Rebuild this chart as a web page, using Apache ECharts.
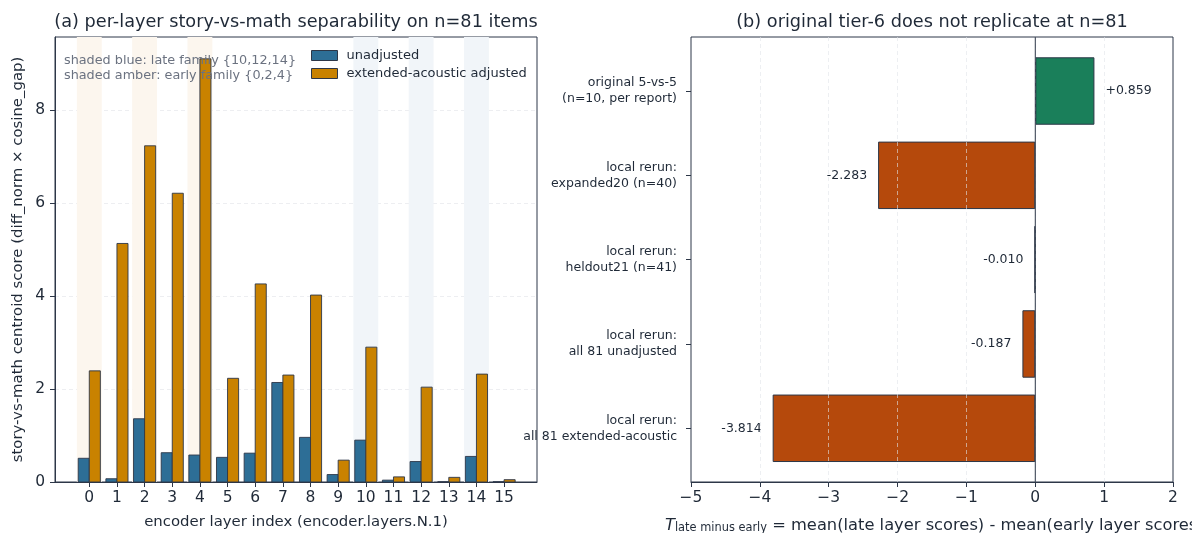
<!DOCTYPE html>
<html><head><meta charset="utf-8">
<script src="https://cdn.jsdelivr.net/npm/echarts@6/dist/echarts.min.js"></script>
<style>html,body{margin:0;padding:0;background:#fff}#c{width:1192px;height:533px}</style>
</head><body><div id="c"></div>
<script>
// ---- data (left panel) ----
const layers = [0,1,2,3,4,5,6,7,8,9,10,11,12,13,14,15];
const unadjusted = [0.51,0.07,1.36,0.63,0.58,0.53,0.62,2.14,0.96,0.16,0.90,0.04,0.44,0.005,0.55,0.005];
const adjusted   = [2.39,5.13,7.23,6.21,9.10,2.23,4.26,2.30,4.02,0.47,2.90,0.11,2.04,0.10,2.32,0.05];
const earlyFamily = [0,2,4];
const lateFamily = [10,12,14];
const leftYTicks = [0,2,4,6,8];
// ---- data (right panel) ----
const tCategories = [
  'original 5-vs-5\n(n=10, per report)',
  'local rerun:\nexpanded20 (n=40)',
  'local rerun:\nheldout21 (n=41)',
  'local rerun:\nall 81 unadjusted',
  'local rerun:\nall 81 extended-acoustic'
];
const tValues = [0.859,-2.283,-0.010,-0.187,-3.814];
const tLabels = ['+0.859','-2.283','-0.010','-0.187','-3.814'];

const FONT = 'DejaVu Sans';
const TXT = '#1f2937';
const FRAME = '#2d3748';
const BLUE = '#2d6e96';
const AMBER = '#c98200';
const GREEN = '#1a7f5a';
const RUST = '#b5490c';

const chart = echarts.init(document.getElementById('c'), null, {renderer:'canvas'});

function barRender(offset, color) {
  return function(params, api) {
    const i = api.value(0), v = api.value(1);
    const p0 = api.coord([i + offset, v]);
    const p1 = api.coord([i + offset + 0.4, 0]);
    return {type:'rect', shape:{x:p0[0], y:p0[1], width:p1[0]-p0[0], height:p1[1]-p0[1]},
      style:{fill:color, stroke:FRAME, lineWidth:0.9}};
  };
}
function shadeRender(color) {
  return function(params, api) {
    const i = api.value(0);
    const p0 = api.coord([i - 0.45, 9.57]);
    const p1 = api.coord([i + 0.45, 0]);
    return {type:'rect', shape:{x:p0[0], y:p0[1], width:p1[0]-p0[0], height:p1[1]-p0[1]},
      style:{fill:color}};
  };
}
const minus = v => (v < 0 ? '\u2212' + Math.abs(v) : String(v));

const option = {
  animation: false,
  textStyle: {fontFamily: FONT},
  grid: [
    {left:55, right:655, top:37, bottom:51, show:true, borderColor:FRAME, borderWidth:1, backgroundColor:'transparent'},
    {left:691, right:19, top:37, bottom:51, show:true, borderColor:FRAME, borderWidth:1, backgroundColor:'transparent'},
    {left:691, right:19, top:48.85, bottom:62.55}
  ],
  xAxis: [
    {gridIndex:0, type:'value', min:-1.24, max:16.19,
     axisLine:{show:true, onZero:false, lineStyle:{color:FRAME}},
     axisTick:{show:true, length:5, customValues:layers, lineStyle:{color:FRAME}},
     axisLabel:{show:true, customValues:layers, color:TXT, fontSize:15.5, margin:8, fontFamily:FONT},
     splitLine:{show:false}},
    {gridIndex:1, type:'value', min:-5, max:2, interval:1, z:5,
     axisLine:{show:true, onZero:false, lineStyle:{color:FRAME}},
     axisTick:{show:true, length:5, lineStyle:{color:FRAME}},
     axisLabel:{color:TXT, fontSize:15.5, margin:8, fontFamily:FONT, formatter: minus},
     splitLine:{show:true, showMinLine:false, showMaxLine:false,
       lineStyle:{color:'rgba(225,228,234,0.75)', type:[4,3], width:0.8}}},
    {gridIndex:2, type:'value', min:-5, max:2, show:false}
  ],
  yAxis: [
    {gridIndex:0, type:'value', min:0, max:9.57,
     axisLine:{show:true, onZero:false, lineStyle:{color:FRAME}},
     axisTick:{show:true, length:5, customValues:leftYTicks, lineStyle:{color:FRAME}},
     axisLabel:{color:TXT, fontSize:15.5, margin:10, fontFamily:FONT, customValues:leftYTicks},
     splitLine:{show:true, lineStyle:{color:'#e8eaee', type:[4,3], width:0.8}}},
    {gridIndex:1, type:'value', min:0, max:1, show:false},
    {gridIndex:2, type:'category', inverse:true, data:tCategories,
     axisLine:{show:false, onZero:false},
     axisTick:{show:true, alignWithLabel:true, length:5, lineStyle:{color:FRAME}},
     axisLabel:{color:TXT, fontSize:12.5, lineHeight:16, margin:14, align:'right', fontFamily:FONT}}
  ],
  legend: {
    orient:'vertical', left:306, top:44, itemWidth:26, itemHeight:10, itemGap:5, icon:'rect',
    textStyle:{color:TXT, fontSize:13, fontFamily:FONT, padding:[0,0,0,4]},
    data:[
      {name:'unadjusted', itemStyle:{color:BLUE, borderColor:FRAME, borderWidth:1}},
      {name:'extended-acoustic adjusted', itemStyle:{color:AMBER, borderColor:FRAME, borderWidth:1}}
    ]
  },
  series: [
    {type:'custom', name:'early shade', xAxisIndex:0, yAxisIndex:0, z:1, silent:true,
     data: earlyFamily.map(l => [l]), encode:{x:0}, renderItem: shadeRender('#fcf6ee')},
    {type:'custom', name:'late shade', xAxisIndex:0, yAxisIndex:0, z:1, silent:true,
     data: lateFamily.map(l => [l]), encode:{x:0}, renderItem: shadeRender('#f1f5f9')},
    {type:'custom', name:'unadjusted', xAxisIndex:0, yAxisIndex:0, z:3,
     itemStyle:{color:BLUE},
     data: layers.map((l,k) => [l, unadjusted[k]]), encode:{x:0, y:1}, renderItem: barRender(-0.4, BLUE)},
    {type:'custom', name:'extended-acoustic adjusted', xAxisIndex:0, yAxisIndex:0, z:3,
     itemStyle:{color:AMBER},
     data: layers.map((l,k) => [l, adjusted[k]]), encode:{x:0, y:1}, renderItem: barRender(0, AMBER)},
    {type:'bar', name:'T', xAxisIndex:2, yAxisIndex:2, barWidth:'80%', z:2,
     data: tValues.map((v,k) => ({
       value:v,
       itemStyle:{color: v > 0 ? GREEN : RUST, borderColor:FRAME, borderWidth:1},
       label:{show:true, position: v > 0 ? 'right' : 'left', distance:11, formatter: tLabels[k],
              color:TXT, fontSize:12.5, fontFamily:FONT}
     }))},
    {type:'line', name:'zero', xAxisIndex:1, yAxisIndex:1, z:6, symbol:'none', silent:true,
     lineStyle:{color:FRAME, width:1}, data:[[0,0],[0,1]]}
  ],
  graphic: [
    {type:'text', x:296, y:22, style:{text:'(a) per-layer story-vs-math separability on n=81 items',
      fill:TXT, font:'17.7px "DejaVu Sans"', textAlign:'center', textVerticalAlign:'middle'}},
    {type:'text', x:932, y:22, style:{text:'(b) original tier-6 does not replicate at n=81',
      fill:TXT, font:'17.7px "DejaVu Sans"', textAlign:'center', textVerticalAlign:'middle'}},
    {type:'text', x:64, y:61, z:10, style:{text:'shaded blue: late family {10,12,14}',
      fill:'#6b7280', font:'12.8px "DejaVu Sans"', textAlign:'left', textVerticalAlign:'middle'}},
    {type:'text', x:64, y:75.5, z:10, style:{text:'shaded amber: early family {0,2,4}',
      fill:'#6b7280', font:'12.8px "DejaVu Sans"', textAlign:'left', textVerticalAlign:'middle'}},
    {type:'text', x:296, y:522, style:{text:'encoder layer index (encoder.layers.N.1)',
      fill:TXT, font:'14.9px "DejaVu Sans"', textAlign:'center', textVerticalAlign:'middle'}},
    {type:'text', x:18, y:259.5, rotation:Math.PI/2, style:{text:'story-vs-math centroid score (diff_norm \u00d7 cosine_gap)',
      fill:TXT, font:'14.9px "DejaVu Sans"', textAlign:'center', textVerticalAlign:'middle'}},
    {type:'text', x:665, y:514, style:{
      text:'{t|T}{s|late minus early}{n| = mean(late layer scores) - mean(early layer scores)}',
      rich:{
        t:{fontSize:16.3, fontStyle:'italic', fontFamily:FONT, fill:TXT, lineHeight:20, verticalAlign:'bottom'},
        s:{fontSize:11.4, fontFamily:FONT, fill:TXT, lineHeight:13, verticalAlign:'bottom'},
        n:{fontSize:16.3, fontFamily:FONT, fill:TXT, lineHeight:20, verticalAlign:'bottom'}
      },
      textAlign:'left', textVerticalAlign:'top'}}
  ]
};
chart.setOption(option);
</script></body></html>
